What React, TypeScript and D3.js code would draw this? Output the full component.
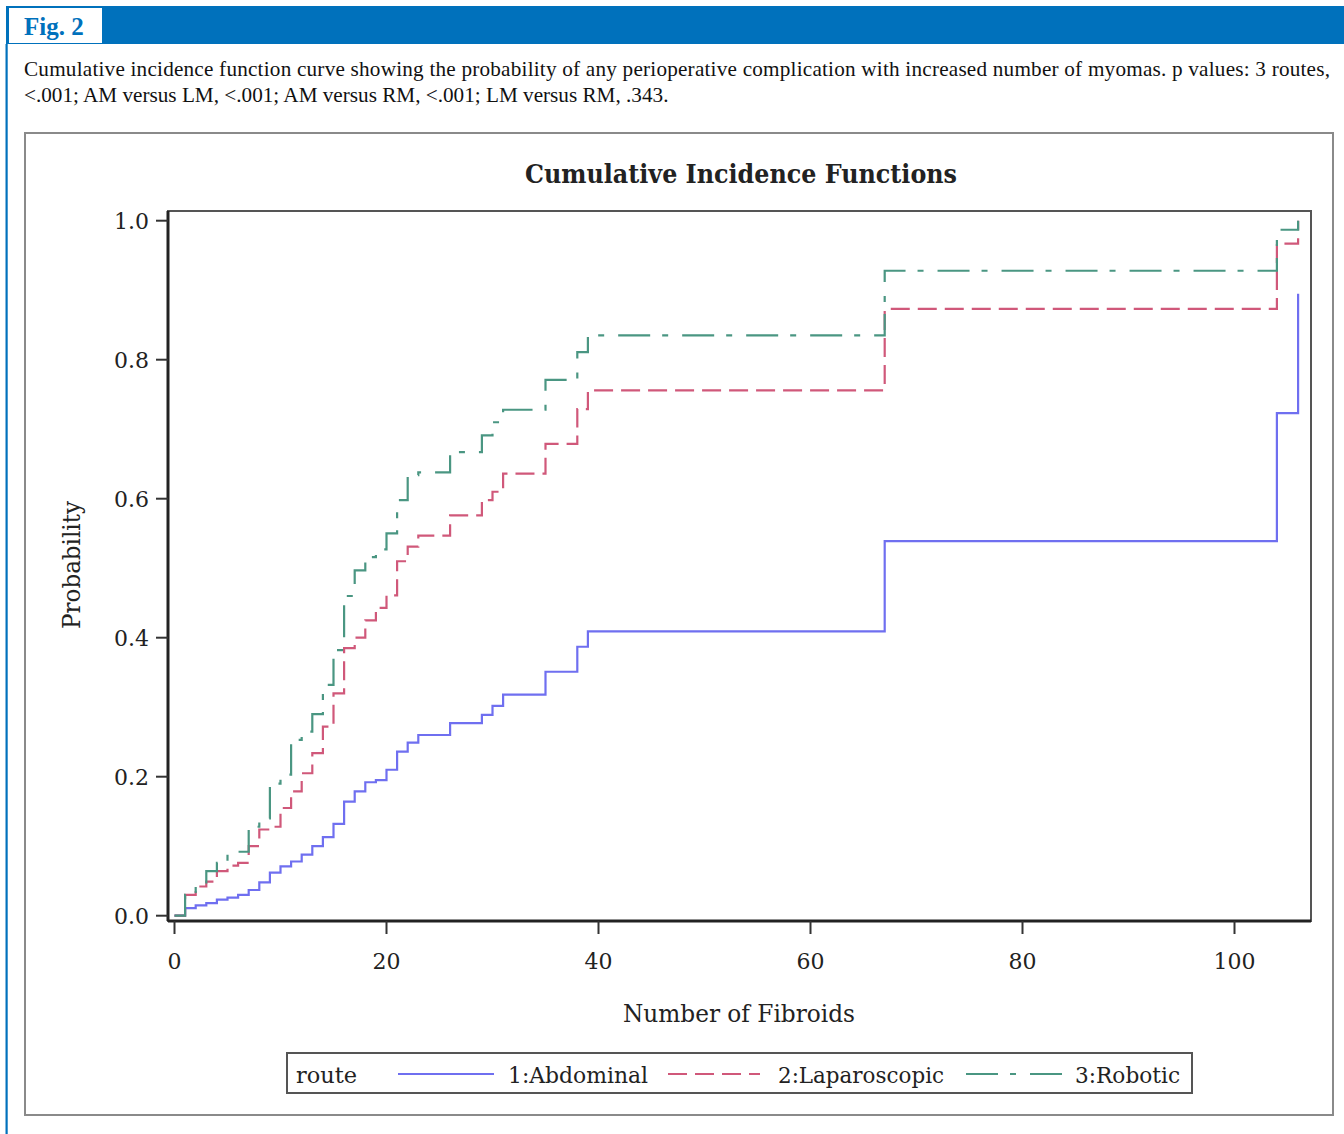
import React from "react";
import * as d3 from "d3";

// ---- data ----
const fibroidCounts = [
  0, 1, 2, 3, 4, 5, 6, 7, 8, 9, 10, 11, 12, 13, 14, 15, 16, 17, 18, 19, 20, 21, 22, 23,
  26, 29, 30, 31, 35, 38, 39, 67, 104, 106,
];
const abdominalCIF = [
  0, 0.011, 0.015, 0.018, 0.023, 0.026, 0.03, 0.037, 0.048, 0.062, 0.071, 0.078, 0.088, 0.1,
  0.113, 0.132, 0.164, 0.179, 0.192, 0.195, 0.21, 0.236, 0.249, 0.26,
  0.277, 0.289, 0.302, 0.318, 0.351, 0.387, 0.409, 0.539, 0.723, 0.895,
];
const laparoscopicCIF = [
  0, 0.03, 0.042, 0.049, 0.064, 0.072, 0.076, 0.1, 0.124, 0.128, 0.155, 0.179, 0.205, 0.234,
  0.272, 0.32, 0.385, 0.4, 0.425, 0.443, 0.461, 0.51, 0.531, 0.547,
  0.576, 0.598, 0.61, 0.636, 0.679, 0.729, 0.756, 0.873, 0.967, 1.0,
];
const roboticCIF = [
  0, 0.03, 0.042, 0.064, 0.076, 0.088, 0.092, 0.128, 0.14, 0.19, 0.203, 0.253, 0.265, 0.29,
  0.332, 0.382, 0.46, 0.497, 0.516, 0.527, 0.55, 0.598, 0.634, 0.638,
  0.667, 0.691, 0.71, 0.728, 0.771, 0.811, 0.835, 0.928, 0.987, 1.0,
];
const seriesNames = ["1:Abdominal", "2:Laparoscopic", "3:Robotic"];
const xTicks = [0, 20, 40, 60, 80, 100];
const yTicks = [0, 0.2, 0.4, 0.6, 0.8, 1.0];

const colors = ["#6f6ff0", "#d0587a", "#4a9682"];
const dashes = ["none", "19 8", "32 12 6 14"];

const W = 1344;
const H = 1134;
const serif = "'DejaVu Serif', 'Liberation Serif', serif";
const times = "'Liberation Serif', 'Times New Roman', serif";

export default function App() {
  const x = d3.scaleLinear().domain([0, 100]).range([174.5, 1234.5]);
  const y = d3.scaleLinear().domain([0, 1]).range([915.7, 220.7]);
  const left = 168, right = 1311, top = 211, bottom = 921;

  const series = [abdominalCIF, laparoscopicCIF, roboticCIF];
  const line = d3
    .line<number>()
    .x((_, i) => x(fibroidCounts[i]))
    .y((d) => y(d))
    .curve(d3.curveStepAfter);

  const legendItems = [
    { x1: 398, x2: 494, tx: 508, tw: 140 },
    { x1: 668, x2: 760, tx: 778, tw: 166 },
    { x1: 966, x2: 1062, tx: 1075, tw: 105 },
  ];

  return (
    <svg
      width={W}
      height={H}
      style={{ position: "absolute", left: 0, top: 0, background: "#fff" }}
    >
      {/* header */}
      <rect x={6} y={6} width={W - 6} height={38} fill="#0071bc" />
      <rect x={9} y={8} width={93} height={35} fill="#fff" />
      <text x={24} y={35} fontFamily={times} fontWeight="bold" fontSize={25} fill="#0071bc">
        Fig. 2
      </text>
      <rect x={5.5} y={44} width={2.2} height={H - 44} fill="#0071bc" />
      <text x={24} y={76} fontFamily={times} fontSize={21.2} fill="#111" textLength={1306} lengthAdjust="spacing">
        Cumulative incidence function curve showing the probability of any perioperative complication with increased number of myomas. p values: 3 routes,
      </text>
      <text x={24} y={102} fontFamily={times} fontSize={21.2} fill="#111">
        {"<.001; AM versus LM, <.001; AM versus RM, <.001; LM versus RM, .343."}
      </text>

      {/* panel */}
      <rect x={25} y={133} width={1308} height={982} fill="#fff" stroke="#8a8a8a" strokeWidth={2} />

      {/* title */}
      <text x={741} y={183} textAnchor="middle" fontFamily={serif} fontWeight="bold" fontSize={26} fill="#222" textLength={432} lengthAdjust="spacingAndGlyphs">
        Cumulative Incidence Functions
      </text>

      {/* series */}
      {series.map((s, i) => (
        <path
          key={i}
          d={line(s) || ""}
          fill="none"
          stroke={colors[i]}
          strokeWidth={2.2}
          strokeDasharray={dashes[i]}
        />
      ))}

      {/* frame */}
      <rect x={left} y={top} width={right - left} height={bottom - top} fill="none" stroke="#555" strokeWidth={2} />
      <line x1={left} y1={top} x2={left} y2={bottom} stroke="#222" strokeWidth={3} />
      <line x1={left} y1={bottom} x2={right} y2={bottom} stroke="#222" strokeWidth={3} />

      {/* y axis */}
      {yTicks.map((t) => (
        <g key={t}>
          <line x1={156} x2={left} y1={y(t)} y2={y(t)} stroke="#333" strokeWidth={2} />
          <text x={149} y={y(t) + 8} textAnchor="end" fontFamily={serif} fontSize={22} fill="#222" textLength={35} lengthAdjust="spacingAndGlyphs">
            {t.toFixed(1)}
          </text>
        </g>
      ))}
      <text
        transform={`translate(80,565) rotate(-90)`}
        textAnchor="middle"
        fontFamily={serif}
        fontSize={24}
        fill="#222"
        textLength={128}
        lengthAdjust="spacingAndGlyphs"
      >
        Probability
      </text>

      {/* x axis */}
      {xTicks.map((t) => (
        <g key={t}>
          <line x1={x(t)} x2={x(t)} y1={bottom} y2={934} stroke="#333" strokeWidth={2} />
          <text x={x(t)} y={969} textAnchor="middle" fontFamily={serif} fontSize={22} fill="#222">
            {t}
          </text>
        </g>
      ))}
      <text x={739} y={1022} textAnchor="middle" fontFamily={serif} fontSize={24} fill="#222" textLength={232} lengthAdjust="spacingAndGlyphs">
        Number of Fibroids
      </text>

      {/* legend */}
      <rect x={287} y={1053} width={905} height={40} fill="#fff" stroke="#555" strokeWidth={2} />
      <text x={296} y={1083} fontFamily={serif} fontSize={22} fill="#222" textLength={61} lengthAdjust="spacingAndGlyphs">
        route
      </text>
      {legendItems.map((it, i) => (
        <g key={i}>
          <line x1={it.x1} x2={it.x2} y1={1074} y2={1074} stroke={colors[i]} strokeWidth={2.2} strokeDasharray={dashes[i]} />
          <text x={it.tx} y={1083} fontFamily={serif} fontSize={22} fill="#222" textLength={it.tw} lengthAdjust="spacingAndGlyphs">
            {seriesNames[i]}
          </text>
        </g>
      ))}
    </svg>
  );
}
